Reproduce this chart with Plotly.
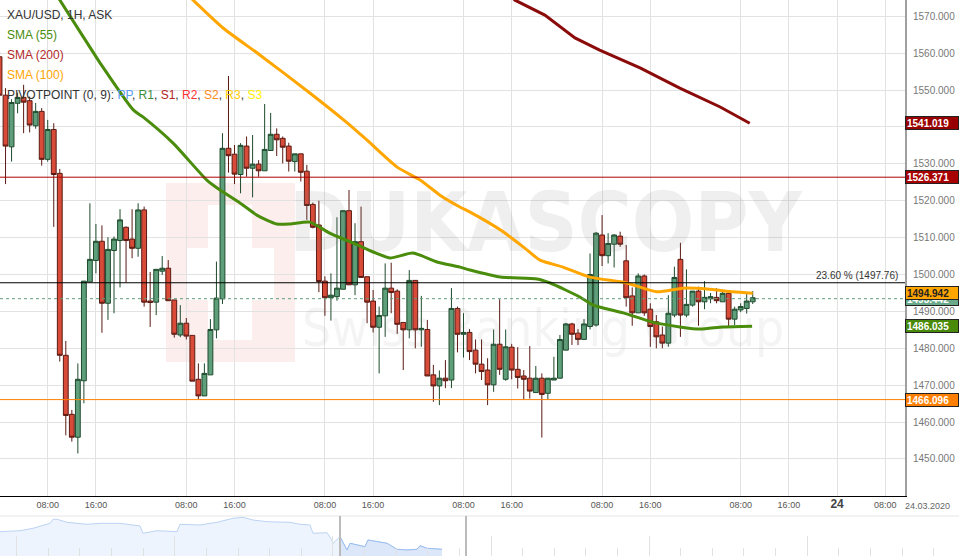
import plotly.graph_objects as go

FONT = "Liberation Sans, Arial, sans-serif"

# ---------------- data ----------------
opens = [1559.0, 1548.6, 1534.6, 1546.4, 1548.0, 1547.1, 1540.3, 1544.2, 1531.2, 1539.3,
         1527.4, 1478.1, 1462.1, 1455.9, 1471.2, 1498.0, 1503.8, 1509.0, 1492.2, 1506.5,
         1509.2, 1512.8, 1509.6, 1507.1, 1517.5, 1492.8, 1492.5, 1500.9, 1501.7, 1493.1,
         1483.6, 1486.8, 1483.5, 1471.6, 1467.1, 1472.8, 1485.0, 1493.4, 1534.2, 1532.6,
         1527.1, 1534.8, 1528.8, 1529.9, 1528.1, 1533.6, 1538.0, 1536.9, 1534.8, 1530.6,
         1532.7, 1528.0, 1519.0, 1513.4, 1498.2, 1493.7, 1494.0, 1496.0, 1517.3, 1497.2,
         1508.9, 1499.4, 1492.8, 1485.7, 1488.8, 1496.3, 1495.5, 1487.0, 1485.0, 1498.4,
         1485.0, 1485.1, 1472.8, 1469.8, 1471.9, 1471.4, 1490.8, 1483.8, 1484.3, 1479.5,
         1475.7, 1474.1, 1470.1, 1481.1, 1471.6, 1480.3, 1474.3, 1472.5, 1471.9, 1468.0,
         1471.9, 1467.8, 1471.4, 1471.9, 1479.5, 1486.6, 1484.1, 1482.4, 1485.9, 1486.3,
         1510.7, 1505.1, 1508.2, 1510.4, 1503.7, 1494.2, 1489.6, 1499.6, 1490.6, 1487.2,
         1483.6, 1481.4, 1489.0, 1504.1, 1489.0, 1491.7, 1495.5, 1492.6, 1493.4, 1493.8,
         1492.6, 1494.9, 1487.9, 1490.4, 1490.8, 1492.6]
highs = [1560.5, 1550.5, 1547.5, 1549.3, 1551.4, 1548.2, 1546.5, 1545.1, 1541.9, 1541.0,
         1528.6, 1482.0, 1463.3, 1475.9, 1498.2, 1519.3, 1513.7, 1513.3, 1510.1, 1510.3,
         1517.7, 1513.0, 1517.7, 1519.3, 1518.4, 1500.7, 1501.4, 1505.0, 1503.9, 1493.1,
         1491.7, 1488.2, 1483.5, 1475.9, 1475.9, 1487.9, 1503.5, 1538.3, 1553.8, 1535.1,
         1535.6, 1537.4, 1537.8, 1531.0, 1546.2, 1543.8, 1539.6, 1537.4, 1535.7, 1532.7,
         1532.7, 1529.7, 1519.5, 1520.0, 1499.5, 1500.3, 1515.5, 1517.3, 1522.9, 1513.9,
         1518.4, 1499.4, 1495.8, 1491.3, 1503.0, 1503.2, 1496.0, 1487.0, 1501.2, 1498.4,
         1494.2, 1487.7, 1475.5, 1474.0, 1476.8, 1496.3, 1491.3, 1489.5, 1485.2, 1482.4,
         1482.4, 1477.3, 1485.1, 1493.3, 1485.1, 1481.2, 1480.3, 1474.1, 1480.6, 1475.2,
         1473.2, 1471.9, 1477.7, 1483.6, 1486.9, 1486.9, 1485.2, 1487.9, 1505.7, 1511.5,
         1516.1, 1511.2, 1510.9, 1511.6, 1508.0, 1496.5, 1500.3, 1500.0, 1492.2, 1489.0,
         1485.9, 1494.4, 1502.1, 1508.6, 1501.4, 1495.5, 1496.7, 1498.2, 1495.0, 1496.3,
         1495.3, 1495.0, 1491.3, 1492.2, 1494.9, 1495.5]
lows = [1546.5, 1524.5, 1530.6, 1543.7, 1538.3, 1538.5, 1539.5, 1529.5, 1530.6, 1512.9,
        1476.4, 1456.4, 1454.7, 1451.5, 1465.1, 1498.0, 1500.3, 1484.2, 1487.7, 1489.5,
        1496.5, 1497.8, 1504.4, 1504.8, 1491.3, 1485.8, 1489.0, 1499.9, 1492.9, 1482.9,
        1483.0, 1482.4, 1471.1, 1466.2, 1467.1, 1472.8, 1482.7, 1492.0, 1527.6, 1524.5,
        1522.0, 1526.5, 1520.9, 1526.5, 1528.1, 1533.6, 1532.1, 1530.1, 1527.9, 1527.9,
        1525.2, 1514.8, 1512.5, 1495.2, 1488.8, 1487.5, 1492.9, 1496.0, 1497.2, 1494.4,
        1499.2, 1486.8, 1484.3, 1473.2, 1483.1, 1489.5, 1483.9, 1474.1, 1482.7, 1480.0,
        1480.4, 1472.5, 1465.5, 1464.6, 1469.2, 1469.2, 1478.9, 1477.5, 1476.8, 1473.2,
        1471.4, 1464.6, 1468.2, 1472.8, 1471.2, 1471.6, 1469.1, 1466.2, 1466.4, 1468.0,
        1455.8, 1466.0, 1471.4, 1471.9, 1479.5, 1480.9, 1480.9, 1482.4, 1485.1, 1485.9,
        1502.3, 1503.0, 1501.9, 1507.5, 1491.3, 1486.1, 1489.6, 1488.8, 1480.4, 1480.0,
        1480.0, 1480.4, 1488.4, 1483.1, 1488.4, 1491.3, 1486.1, 1490.6, 1492.2, 1492.2,
        1492.6, 1485.9, 1486.3, 1489.8, 1489.4, 1492.0]
closes = [1548.6, 1534.8, 1546.6, 1548.0, 1546.7, 1540.5, 1544.2, 1531.2, 1539.3, 1527.1,
          1478.1, 1461.8, 1455.9, 1471.6, 1498.2, 1504.1, 1509.0, 1492.2, 1506.8, 1509.6,
          1514.8, 1509.2, 1507.1, 1517.5, 1492.5, 1492.4, 1501.4, 1501.7, 1492.9, 1483.8,
          1486.8, 1483.3, 1471.1, 1467.1, 1473.2, 1485.1, 1493.6, 1534.2, 1532.2, 1527.2,
          1535.0, 1528.8, 1529.9, 1528.1, 1533.9, 1538.0, 1536.5, 1534.5, 1530.7, 1532.7,
          1527.7, 1518.7, 1512.8, 1498.1, 1493.7, 1494.4, 1496.3, 1517.3, 1497.2, 1508.9,
          1499.2, 1492.5, 1485.7, 1488.9, 1496.3, 1495.1, 1486.5, 1485.0, 1498.4, 1485.0,
          1485.4, 1472.5, 1469.8, 1471.9, 1471.2, 1490.8, 1483.8, 1484.3, 1479.1, 1475.7,
          1473.7, 1470.1, 1481.1, 1474.3, 1480.4, 1474.1, 1472.1, 1471.6, 1468.4, 1471.9,
          1467.5, 1471.9, 1471.9, 1482.4, 1486.6, 1483.8, 1482.4, 1486.6, 1500.0, 1511.2,
          1505.1, 1508.4, 1510.7, 1508.2, 1493.7, 1489.6, 1499.6, 1489.6, 1485.9, 1483.1,
          1481.4, 1489.5, 1499.2, 1489.0, 1491.9, 1495.5, 1492.6, 1493.8, 1494.0, 1492.9,
          1494.9, 1487.9, 1490.6, 1491.3, 1492.8, 1493.7]

# moving averages, read at a handful of bars
sma55_bar = [8, 10, 13.9, 16.7, 22.2, 23.8, 28.8, 34.4, 36.6, 39.9, 42.7, 46, 48.2, 51.5, 54.8,
             58.7, 62, 64.8, 68.6, 72.6, 76.4, 78.1, 83.1, 89.2, 91.4, 96.3, 98.5, 103.5,
             108.4, 112.9, 116.3, 120.1, 124.9]
sma55_val = [1579.5, 1574.4, 1564.4, 1557.3, 1544.6, 1542.7, 1535.6, 1525.6, 1522.9, 1519.4,
             1516.1, 1513.7, 1513.7, 1514.2, 1511.2, 1508.5, 1506.1, 1504.5, 1505.8, 1503.4,
             1502.0, 1501.2, 1499.3, 1498.8, 1497.7, 1493.9, 1491.7, 1489.6, 1487.1, 1485.8,
             1485.2, 1485.8, 1486.0]
sma100_bar = [29, 32.1, 37.1, 43.2, 51.5, 57.7, 61, 66, 69.8, 73.1, 76.4, 78.1, 83.1, 86.9,
              89.7, 93.5, 98, 104.1, 109.1, 113.4, 117.4, 121.7, 125]
sma100_val = [1579.3, 1574.4, 1566.8, 1559.5, 1549.2, 1541.1, 1536.4, 1529.1, 1525.6, 1521.5,
              1518.3, 1516.9, 1512.1, 1507.5, 1503.9, 1502.0, 1499.3, 1497.7, 1495.3, 1496.3,
              1496.1, 1495.3, 1494.9]
sma200_bar = [84, 85.5, 90.5, 95.5, 99.6, 106.3, 112.9, 119.6, 124.5]
sma200_val = [1578.0, 1574.4, 1570.3, 1564.1, 1560.8, 1556.0, 1550.5, 1545.4, 1541.0]

sma_last = {"55": 1486.035, "100": 1494.942, "200": 1541.019}
pivot_r1 = 1526.371
pivot_s1 = 1466.096
fib_level = 1497.76
ask_price = 1493.442

price_ticks = [1450, 1460, 1470, 1480, 1490, 1500, 1510, 1520, 1530, 1540, 1550, 1560, 1570]
# the 1540 label sits under the SMA(200) price tag, so it is left blank
price_tick_txt = ["1450.000", "1460.000", "1470.000", "1480.000", "1490.000", "1500.000",
                  "1510.000", "1520.000", "1530.000", "", "1550.000", "1560.000", "1570.000"]
tick_bar = [8, 16, 31, 39, 54, 62, 77, 85, 100, 108, 123, 131, 139, 147]
tick_txt = ["08:00", "16:00", "08:00", "16:00", "08:00", "16:00", "08:00", "16:00",
            "08:00", "16:00", "08:00", "16:00",
            "<span style='font-size:12px;color:#444'><b>24</b></span>", "08:00"]
date_label = "24.03.2020"

# overview navigator line (bottom strip)
nav_x = [0, 20, 33, 50, 53, 57, 67, 87, 100, 120, 140, 143, 157, 177, 180, 200, 217, 233,
         243, 253, 267, 290, 300, 310, 313, 327, 332, 333, 340, 347, 350, 365, 368, 377,
         387, 397, 407, 417, 420, 427, 442]
nav_v = [24.3, 25.3, 27.7, 32.7, 36.7, 36.7, 33.7, 31.7, 32.7, 32.7, 30, 22.7, 25.3, 24.3,
         31.7, 31, 33.7, 37.7, 38.7, 36, 34.3, 33.7, 31.7, 31, 22.7, 23.3, 16, 12.7, 19.3,
         6, 12.7, 9.3, 16, 14.3, 12.7, 6.7, 6, 6.7, 10.3, 7.7, 6.7]
nav_sel = (340, 466)

# ---------------- figure ----------------
W, H = 959, 556
PR, PB, NT = 905, 496, 516  # plot right / plot bottom / navigator top (px)
n = len(opens)
bars = list(range(n))

fig = go.Figure()

# watermark
fig.add_trace(go.Scatter(x=[90.6], y=[1512.0], mode="text", text=["DUKASCOPY"],
                         textfont=dict(family="DejaVu Sans Condensed, DejaVu Sans", size=82,
                                       color="rgba(120,120,120,0.12)", weight="bold"),
                         hoverinfo="skip", showlegend=False))
fig.add_trace(go.Scatter(x=[90.2], y=[1484.0], mode="text", text=["Swiss Banking Group"],
                         textfont=dict(family="DejaVu Sans Condensed, DejaVu Sans", size=51,
                                       color="rgba(120,120,120,0.08)"),
                         hoverinfo="skip", showlegend=False))

fig.add_trace(go.Candlestick(
    x=bars, open=opens, high=highs, low=lows, close=closes,
    increasing=dict(line=dict(color="#1d4b2c", width=1), fillcolor="#5f9e7a"),
    decreasing=dict(line=dict(color="#5a1a12", width=1), fillcolor="#d84b39"),
    whiskerwidth=0, showlegend=False, hoverinfo="skip"))

fig.add_trace(go.Scatter(x=sma200_bar, y=sma200_val, mode="lines",
                         line=dict(color="#8b0a0a", width=3), hoverinfo="skip", showlegend=False))
fig.add_trace(go.Scatter(x=sma100_bar, y=sma100_val, mode="lines",
                         line=dict(color="#ffa600", width=3, shape="spline", smoothing=0.6),
                         hoverinfo="skip", showlegend=False))
fig.add_trace(go.Scatter(x=sma55_bar, y=sma55_val, mode="lines",
                         line=dict(color="#4a8c0c", width=3, shape="spline", smoothing=0.6),
                         hoverinfo="skip", showlegend=False))

# navigator
fig.add_trace(go.Scatter(x=nav_x, y=nav_v, xaxis="x2", yaxis="y2", mode="lines", fill="tozeroy",
                         line=dict(color="#bcd3f4", width=1), fillcolor="#eef4fd",
                         hoverinfo="skip", showlegend=False))
sel_x = [x for x in nav_x if x >= nav_sel[0]]
sel_v = [v for x, v in zip(nav_x, nav_v) if x >= nav_sel[0]]
fig.add_trace(go.Scatter(x=sel_x, y=sel_v, xaxis="x2", yaxis="y2", mode="lines", fill="tozeroy",
                         line=dict(color="#99bdf0", width=1), fillcolor="#dce8fa",
                         hoverinfo="skip", showlegend=False))

# logo of the watermark (pale red square with white cross)
shapes = [
    dict(type="rect", xref="paper", yref="paper", x0=166 / W, x1=295 / W, y0=1 - 362 / H, y1=1 - 183 / H,
         fillcolor="#fdeeee", line=dict(width=0), layer="below"),
    dict(type="rect", xref="paper", yref="paper", x0=208 / W, x1=252 / W, y0=1 - 340 / H, y1=1 - 205 / H,
         fillcolor="white", line=dict(width=0), layer="below"),
    dict(type="rect", xref="paper", yref="paper", x0=186 / W, x1=274 / W, y0=1 - 300 / H, y1=1 - 248 / H,
         fillcolor="white", line=dict(width=0), layer="below"),
]
# level lines
shapes += [
    dict(type="line", xref="x domain", x0=0, x1=1, yref="y", y0=pivot_r1, y1=pivot_r1,
         line=dict(color="#b00000", width=1)),
    dict(type="line", xref="x domain", x0=0, x1=1, yref="y", y0=pivot_s1, y1=pivot_s1,
         line=dict(color="#ff8000", width=1)),
    dict(type="line", xref="x domain", x0=0, x1=1, yref="y", y0=fib_level, y1=fib_level,
         line=dict(color="#000000", width=1)),
    dict(type="line", xref="x domain", x0=0, x1=1, yref="y", y0=ask_price, y1=ask_price,
         line=dict(color="#5f9e7a", width=1, dash="3px,3px")),
]
# navigator frame
shapes += [
    dict(type="line", xref="paper", yref="paper", x0=0, x1=1, y0=1 - NT / H, y1=1 - NT / H,
         line=dict(color="#e6e6e6", width=1)),
    dict(type="line", xref="x2", yref="paper", x0=nav_sel[0], x1=nav_sel[0], y0=0, y1=1 - NT / H,
         line=dict(color="#bbbbbb", width=2)),
    dict(type="line", xref="x2", yref="paper", x0=nav_sel[1], x1=nav_sel[1], y0=0, y1=1 - NT / H,
         line=dict(color="#bbbbbb", width=2)),
]

ann = []
legend_rows = [
    ("XAU/USD, 1H, ASK", 15),
    ("<span style='color:#4a8c0c'>SMA (55)</span>", 35),
    ("<span style='color:#b22a2a'>SMA (200)</span>", 55),
    ("<span style='color:#ffa500'>SMA (100)</span>", 75),
    ("PIVOTPOINT (0, 9): <span style='color:#5a9cf5'>PP</span>, "
     "<span style='color:#3c8c3c'>R1</span>, <span style='color:#b22222'>S1</span>, "
     "<span style='color:#ff3333'>R2</span>, <span style='color:#ff8c1a'>S2</span>, "
     "<span style='color:#ffcc00'>R3</span>, <span style='color:#ffee00'>S3</span>", 95),
]
for txt, py in legend_rows:
    ann.append(dict(xref="paper", yref="paper", x=5 / W, y=1 - py / H, xanchor="left", yanchor="middle",
                    text=txt, showarrow=False, font=dict(family=FONT, size=12, color="#333333")))

def price_tag(val, bg, fg):
    return dict(xref="paper", yref="y", x=PR / W, y=val, xanchor="left", yanchor="middle",
                text="<b>%.3f</b>" % val, showarrow=False, align="left",
                font=dict(family=FONT, size=10, color=fg), bgcolor=bg,
                bordercolor="#222222", borderwidth=1, borderpad=1, width=50, height=10)

ann.append(price_tag(sma_last["200"], "#990000", "white"))
ann.append(price_tag(pivot_r1, "#a80000", "white"))
ann.append(price_tag(ask_price, "#6aa88a", "white"))
ann.append(price_tag(sma_last["100"], "#ffa500", "#222222"))
ann.append(price_tag(sma_last["55"], "#4a8a0a", "white"))
ann.append(price_tag(pivot_s1, "#ff8000", "white"))

ann.append(dict(xref="paper", yref="y", x=900 / W, y=fib_level, xanchor="right", yanchor="bottom",
                text="23.60 %% (%.2f)" % fib_level, showarrow=False,
                font=dict(family=FONT, size=10, color="#333333")))
ann.append(dict(xref="paper", yref="paper", x=927 / W, y=1 - 506 / H, xanchor="center", yanchor="middle",
                text=date_label, showarrow=False, font=dict(family=FONT, size=9, color="#666666")))

fig.update_layout(
    width=W, height=H, margin=dict(l=0, r=0, t=0, b=0, autoexpand=False),
    paper_bgcolor="white", plot_bgcolor="white",
    boxgap=0.2, boxgroupgap=0,
    showlegend=False, hovermode=False,
    font=dict(family=FONT),
    xaxis=dict(domain=[0, PR / W], range=[0.08, 150.27], rangeslider=dict(visible=False),
               tickmode="array", tickvals=tick_bar, ticktext=tick_txt, automargin=False,
               tickfont=dict(family=FONT, size=9, color="#555555"),
               showgrid=True, gridcolor="#e2e2e2", gridwidth=1, zeroline=False,
               showline=True, linecolor="#000000", linewidth=1, ticks="", fixedrange=True),
    yaxis=dict(domain=[1 - PB / H, 1], range=[1439.97, 1574.39], side="right",
               tickmode="array", tickvals=price_ticks, ticktext=price_tick_txt, automargin=False,
               tickfont=dict(family=FONT, size=10, color="#777777"),
               showgrid=True, gridcolor="#e2e2e2", gridwidth=1, zeroline=False,
               showline=True, linecolor="#a0a0a0", linewidth=2, ticks="", ticklabelstandoff=4,
               fixedrange=True),
    xaxis2=dict(domain=[0, 1], range=[0, W], anchor="y2", showgrid=False, zeroline=False,
                showticklabels=False, ticks="inside", tick0=16.7, dtick=158.1, ticklen=20,
                tickcolor="#e2e2e2", tickwidth=1, automargin=False,
                minor=dict(ticks="inside", tick0=16.7, dtick=31.62, ticklen=8, tickcolor="#e2e2e2"),
                showline=False, fixedrange=True),
    yaxis2=dict(domain=[0, (H - NT) / H], range=[0, 40], anchor="x2", showgrid=False,
                zeroline=False, showticklabels=False, fixedrange=True, automargin=False),
    shapes=shapes, annotations=ann,
)

fig.write_html("out.html", config={"displayModeBar": False},
               post_script="document.body.style.margin='0px';")
